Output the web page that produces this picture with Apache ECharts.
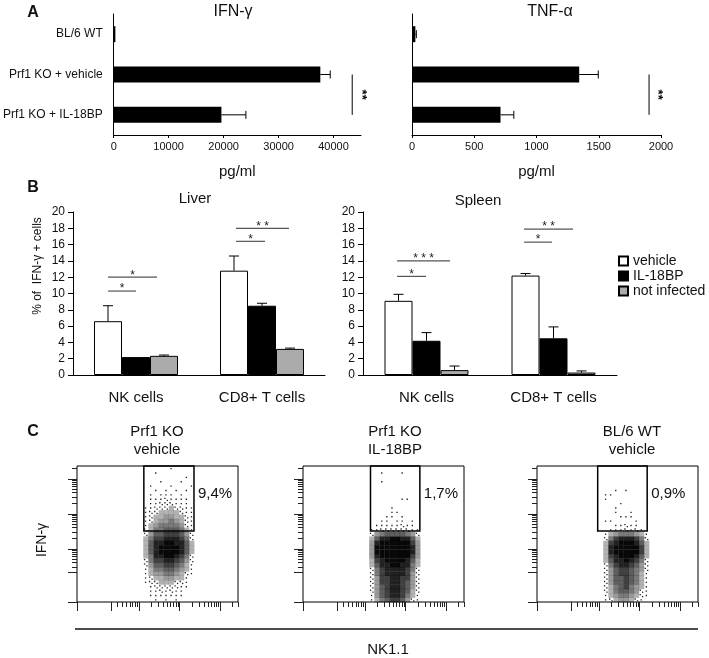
<!DOCTYPE html>
<html><head><meta charset="utf-8">
<script src="https://cdn.jsdelivr.net/npm/echarts@6/dist/echarts.min.js"></script>
<style>html,body{margin:0;padding:0;background:#fff}#c{width:709px;height:658px}</style>
</head><body><div id="c"></div>
<script>
const FONT = "'Liberation Sans', Arial, Helvetica, sans-serif";

// ---------- Panel A ----------
const groupsA = ['BL/6 WT', 'Prf1 KO + vehicle', 'Prf1 KO + IL-18BP'];
const ifnMean = [300, 37600, 19600];
const ifnErr  = [0, 1800, 4450];
const tnfMean = [27, 1343, 711];
const tnfErr  = [8, 153, 107];
const ifnAxis = {min: 0, max: 45000, step: 10000};
const tnfAxis = {min: 0, max: 2000, step: 500};
const ifnSig = [[43400, 1, 2]];   // x value, from group, to group
const tnfSig = [[1904, 1, 2]];
const sigLabelA = '**';

// ---------- Panel B ----------
const cellTypes = ['NK cells', 'CD8+ T cells'];
const treatments = ['vehicle', 'IL-18BP', 'not infected'];
const liverVehicle = [6.6, 12.8],  liverVehicleErr = [1.9, 1.8];
const liverIL      = [2.2, 8.5],   liverILErr      = [0, 0.3];
const liverNI      = [2.35, 3.2],  liverNIErr      = [0.1, 0.1];
const spleenVehicle = [9.1, 12.2], spleenVehicleErr = [0.8, 0.25];
const spleenIL      = [4.2, 4.5],  spleenILErr      = [1.0, 1.4];
const spleenNI      = [0.6, 0.3],  spleenNIErr      = [0.5, 0.2];
const pctAxis = {min: 0, max: 20, step: 2};
// brackets: [x start, x end, y level] on a 0..2 group scale
const liverBrackets  = [[0.278, 0.5, 10.3], [0.278, 0.667, 12.0], [1.294, 1.524, 16.4], [1.294, 1.714, 18.0]];
const liverStars     = ['*', '*', '*', '* *'];
const spleenBrackets = [[0.268, 0.496, 12.1], [0.268, 0.685, 14.0], [1.268, 1.488, 16.3], [1.268, 1.654, 17.9]];
const spleenStars    = ['*', '* * *', '*', '* *'];

// ---------- Panel C ----------
const facsTitles = [['Prf1 KO', 'vehicle'], ['Prf1 KO', 'IL-18BP'], ['BL/6 WT', 'vehicle']];
const gatePct = ['9,4%', '1,7%', '0,9%'];
const gates = [[1.64, 2.87, 2.03], [1.656, 2.867, 2.03], [1.489, 2.703, 2.03]]; // x1, x2, y bottom (decades)
const cloudX0 = [1.5, 1.5, 1.375];
const BIN = 0.125, CLOUD_TOP = 3.875;
// density per bin (0-9), rows from top to bottom
const cloudVehicle = [
"000000100000","000100000000","000000000100","000010001000","001000100010",
"000101010100","001011101000","001112111100","001122211100","011222322110",
"012233332110","012334433210","012344543210","013455554210","023556665310",
"024667776420","035778887520","036889988630","036899998630","036899998630",
"035889987520","025778876420","024667765310","013556654310","013445543210",
"012334433100","012233322100","001222221100","001121211000","001111111000",
"000101010000"];
const cloudIL18BP = [
"000000000000","000100010000","000000000000","000100000000","000000000000",
"000000000000","000000000000","000000011000","000000000000","000001000000",
"000001100000","000011010000","000110110100","001111121100","011222222110",
"024566665420","036889988630","048999999740","049999999840","049999999840",
"048999999740","037899998630","036889988530","025788887520","025788887420",
"024778877420","024778876420","024678876420","024678876320","014678875310",
"013567764210"];
const cloudWT = [
"000000000000","000000000000","000000000000","000000000000","000000000000",
"000010100000","001100000000","001000000000","000001000000","000010000000",
"000010010000","000001110000","001100001000","000011211000","000111212100",
"001345554310","002578887520","003789998630","003899999730","003899999730",
"003789998630","003688987520","002578876420","002467765420","002467765310",
"002466765310","002466765310","002356754310","002356654210","001345543210",
"001234432100"];
const clouds = [cloudVehicle, cloudIL18BP, cloudWT];
const FACS_X_MAX = 3.95, FACS_Y_MAX = 3.886;
const facsMajor = [0, 0.85, 1.52, 2.52, 3.52];
const facsDecades = [0.52, 1.52, 2.52, 3.52];

function facsMinor(maxV, withEnd) {
  const out = [];
  facsDecades.forEach(d => { for (let k = 2; k <= 9; k++) { const v = d + Math.log10(k); if (v > 0.87 && v < maxV - 0.02) out.push(+v.toFixed(3)); } });
  if (withEnd) out.push(maxV);
  return out;
}

// ---------- render helpers ----------
const TXT = (o) => Object.assign({fontFamily: FONT, fill: '#111', align: 'center', verticalAlign: 'middle', textAlign: 'center', textVerticalAlign: 'middle'}, o);
function errH(params, api) {
  const m = api.value(0), c = api.value(1), e = api.value(2);
  if (!(e > 0)) return null;
  const p0 = api.coord([m, c]), p1 = api.coord([m + e, c]);
  return {type: 'group', children: [
    {type: 'line', shape: {x1: p0[0], y1: p0[1], x2: p1[0], y2: p1[1]}, style: {stroke: '#000', lineWidth: 1}},
    {type: 'line', shape: {x1: p1[0], y1: p1[1] - 4, x2: p1[0], y2: p1[1] + 4}, style: {stroke: '#000', lineWidth: 1}}
  ]};
}
function sigA(params, api) {
  const x = api.value(0), c1 = api.value(1), c2 = api.value(2);
  const p1 = api.coord([x, c1]), p2 = api.coord([x, c2]);
  return {type: 'group', children: [
    {type: 'line', shape: {x1: p1[0], y1: p1[1], x2: p2[0], y2: p2[1]}, style: {stroke: '#000', lineWidth: 1}},
    {type: 'text', x: p1[0] + 9, y: (p1[1] + p2[1]) / 2, rotation: -Math.PI / 2,
     style: TXT({text: sigLabelA, fontSize: 13, fontWeight: 'bold', fill: '#000'})}
  ]};
}
const BAR_W = 28;
function errV(params, api) {
  const c = api.value(0), m = api.value(1), e = api.value(2), slot = api.value(3);
  if (!(e > 0)) return null;
  const p0 = api.coord([c, m]), p1 = api.coord([c, m + e]);
  const x = p0[0] + slot * BAR_W;
  return {type: 'group', children: [
    {type: 'line', shape: {x1: x, y1: p0[1], x2: x, y2: p1[1]}, style: {stroke: '#000', lineWidth: 1}},
    {type: 'line', shape: {x1: x - 5, y1: p1[1], x2: x + 5, y2: p1[1]}, style: {stroke: '#000', lineWidth: 1}}
  ]};
}
function bracketRender(stars) {
  return function (params, api) {
    const x1 = api.value(0), x2 = api.value(1), y = api.value(2);
    const a = api.coord([x1, y]), b = api.coord([x2, y]);
    return {type: 'group', children: [
      {type: 'line', shape: {x1: a[0], y1: a[1], x2: b[0], y2: b[1]}, style: {stroke: '#555', lineWidth: 1.2}},
      {type: 'text', x: (a[0] + b[0]) / 2, y: a[1] - 2, style: TXT({text: stars[params.dataIndex], fontSize: 12, fill: '#222'})}
    ]};
  };
}
const ALPHA = [0, 0, 0, 0.3, 0.4, 0.52, 0.63, 0.75, 0.87, 0.97];
function cloudRender(params, api) {
  const x = api.value(0), y = api.value(1), d = api.value(2);
  const a = api.coord([x, y + BIN]), b = api.coord([x + BIN, y]);
  const w = b[0] - a[0], h = b[1] - a[1];
  if (d <= 2) {
    const pts = d === 1 ? [[0.45, 0.5]] : [[0.25, 0.3], [0.72, 0.75]];
    return {type: 'group', children: pts.map(p => ({type: 'rect', shape: {x: a[0] + p[0] * w - 0.6, y: a[1] + p[1] * h - 0.6, width: 1.3, height: 1.3}, style: {fill: '#222'}}))};
  }
  return {type: 'rect', shape: {x: a[0], y: a[1], width: w + 0.25, height: h + 0.25}, style: {fill: 'rgba(0,0,0,' + ALPHA[d] + ')'}};
}
function gateRenderFor(p) {
  return function (params, api) {
    const x1 = api.value(0), x2 = api.value(1), yb = api.value(2);
    const a = api.coord([x1, FACS_Y_MAX]), b = api.coord([x2, yb]);
    return {type: 'group', children: [
      {type: 'rect', shape: {x: a[0], y: a[1], width: b[0] - a[0], height: b[1] - a[1]}, style: {fill: 'none', stroke: '#000', lineWidth: 1.5}},
      {type: 'text', x: b[0] + 4, y: a[1] + 28, style: TXT({text: gatePct[p], fontSize: 15, align: 'left', textAlign: 'left'})}
    ]};
  };
}
function cloudCells(rows, x0) {
  const out = [];
  rows.forEach((r, j) => { for (let i = 0; i < r.length; i++) { const d = +r[i]; if (d > 0) out.push([x0 + i * BIN, CLOUD_TOP - (j + 1) * BIN, d]); } });
  return out;
}

// ---------- option ----------
const grids = [
  {left: 113, top: 14, width: 248, height: 121},
  {left: 412, top: 14, width: 249, height: 121},
  {left: 73, top: 212, width: 252, height: 163},
  {left: 363, top: 212, width: 254, height: 163},
  {left: 77, top: 466, width: 161, height: 136, show: true, borderColor: '#000', borderWidth: 1},
  {left: 303, top: 466, width: 161, height: 136, show: true, borderColor: '#000', borderWidth: 1},
  {left: 537, top: 466, width: 161, height: 136, show: true, borderColor: '#000', borderWidth: 1}
];
const blackLine = {show: true, lineStyle: {color: '#000', width: 1}};
function valX(g, ax) {
  return {type: 'value', gridIndex: g, min: ax.min, max: ax.max, interval: ax.step,
    axisLine: blackLine, axisTick: {show: true, length: 3, lineStyle: {color: '#000'}},
    axisLabel: {fontSize: 11, color: '#111', margin: 6, showMaxLabel: ax.max % ax.step === 0, formatter: v => String(v)},
    splitLine: {show: false}, name: 'pg/ml', nameLocation: 'middle', nameGap: 29,
    nameTextStyle: {fontSize: 15, color: '#111'}};
}
function facsX(g, vals, len) {
  return {type: 'value', gridIndex: g, min: 0, max: FACS_X_MAX, position: 'bottom',
    axisLine: {show: false}, splitLine: {show: false},
    axisLabel: {show: false, customValues: vals},
    axisTick: {show: true, length: len, customValues: vals, lineStyle: {color: '#222', width: 1}}};
}
function facsY(g, vals, len) {
  return {type: 'value', gridIndex: g, min: 0, max: FACS_Y_MAX, position: 'left',
    axisLine: {show: false}, splitLine: {show: false},
    axisLabel: {show: false, customValues: vals},
    axisTick: {show: true, length: len, customValues: vals, lineStyle: {color: '#222', width: 1}}};
}
function pctY(g) {
  return {type: 'value', gridIndex: g, min: pctAxis.min, max: pctAxis.max, interval: pctAxis.step,
    axisLine: blackLine, axisTick: {show: true, length: 5, lineStyle: {color: '#000'}},
    axisLabel: {fontSize: 12, color: '#111', margin: 8}, splitLine: {show: false}};
}
function catX(g) {
  return {type: 'category', gridIndex: g, data: cellTypes, axisTick: {show: false}, axisLine: blackLine,
    axisLabel: {fontSize: 15, color: '#111', margin: 15}};
}

const xAxis = [
  valX(0, ifnAxis), valX(1, tnfAxis),
  catX(2), {type: 'value', gridIndex: 2, min: 0, max: 2, show: false},
  catX(3), {type: 'value', gridIndex: 3, min: 0, max: 2, show: false}
];
const yAxis = [
  {type: 'category', gridIndex: 0, data: groupsA, inverse: true, axisLine: blackLine, axisTick: {show: false},
   axisLabel: {fontSize: 12, color: '#111', margin: 11}},
  {type: 'category', gridIndex: 1, data: groupsA, inverse: true, axisLine: blackLine, axisTick: {show: false},
   axisLabel: {show: false}},
  pctY(2), pctY(3)
];
for (let p = 0; p < 3; p++) {
  xAxis.push(facsX(4 + p, facsMajor, 9));
  xAxis.push(facsX(4 + p, facsMinor(FACS_X_MAX, true), 5));
  yAxis.push(facsY(4 + p, facsMajor, 9));
  yAxis.push(facsY(4 + p, facsMinor(FACS_Y_MAX, false), 5));
}

const series = [];
// Panel A
[[ifnMean, ifnErr, ifnSig], [tnfMean, tnfErr, tnfSig]].forEach((s, k) => {
  series.push({type: 'bar', name: 'A' + k, xAxisIndex: k, yAxisIndex: k, data: s[0], barWidth: 16, itemStyle: {color: '#000'}});
  series.push({type: 'custom', xAxisIndex: k, yAxisIndex: k, renderItem: errH, data: s[0].map((m, i) => [m, i, s[1][i]]), z: 3});
  series.push({type: 'custom', xAxisIndex: k, yAxisIndex: k, renderItem: sigA, data: s[2], z: 3});
});
// Panel B
const barStyles = [
  {color: '#fff', borderColor: '#000', borderWidth: 1},
  {color: '#000', borderColor: '#000', borderWidth: 1},
  {color: '#ababab', borderColor: '#000', borderWidth: 1}
];
const tissues = [
  {xi: 2, xv: 3, yi: 2, means: [liverVehicle, liverIL, liverNI], errs: [liverVehicleErr, liverILErr, liverNIErr], br: liverBrackets, st: liverStars},
  {xi: 4, xv: 5, yi: 3, means: [spleenVehicle, spleenIL, spleenNI], errs: [spleenVehicleErr, spleenILErr, spleenNIErr], br: spleenBrackets, st: spleenStars}
];
tissues.forEach(t => {
  const errData = [];
  t.means.forEach((m, s) => {
    series.push({type: 'bar', name: treatments[s], xAxisIndex: t.xi, yAxisIndex: t.yi, data: m,
      barWidth: BAR_W, barGap: '0%', itemStyle: barStyles[s]});
    m.forEach((v, c) => errData.push([c, v, t.errs[s][c], s - 1]));
  });
  series.push({type: 'custom', xAxisIndex: t.xi, yAxisIndex: t.yi, renderItem: errV, data: errData, z: 3});
  series.push({type: 'custom', xAxisIndex: t.xv, yAxisIndex: t.yi, renderItem: bracketRender(t.st), data: t.br,
    encode: {x: [0, 1], y: 2}, z: 3});
});
// Panel C
for (let p = 0; p < 3; p++) {
  series.push({type: 'custom', xAxisIndex: 6 + 2 * p, yAxisIndex: 4 + 2 * p, renderItem: cloudRender, data: cloudCells(clouds[p], cloudX0[p]), z: 2});
  series.push({type: 'custom', xAxisIndex: 6 + 2 * p, yAxisIndex: 4 + 2 * p, renderItem: gateRenderFor(p), data: [gates[p]],
    encode: {x: [0, 1], y: 2}, z: 4});
}

function txt(x, y, text, size, extra) {
  return {type: 'text', x: x, y: y, z: 10, style: TXT(Object.assign({text: text, fontSize: size}, extra || {}))};
}
const graphic = [
  txt(33, 13, 'A', 16, {fontWeight: 'bold'}),
  txt(33, 188, 'B', 16, {fontWeight: 'bold'}),
  txt(33, 432, 'C', 16, {fontWeight: 'bold'}),
  txt(233, 12, 'IFN-\u03b3', 16),
  txt(550, 12, 'TNF-\u03b1', 16),
  txt(195, 199, 'Liver', 15),
  txt(478, 201, 'Spleen', 15),
  Object.assign(txt(38, 266, '% of  IFN-\u03b3 + cells', 12), {rotation: Math.PI / 2}),
  Object.assign(txt(42, 540, 'IFN-\u03b3', 14), {rotation: Math.PI / 2}),
  txt(388, 650, 'NK1.1', 15),
  {type: 'line', shape: {x1: 75, y1: 629, x2: 698, y2: 629}, style: {stroke: '#111', lineWidth: 1.5}}
];
const titleX = [157, 395, 632];
facsTitles.forEach((t, p) => { graphic.push(txt(titleX[p], 432, t[0], 15)); graphic.push(txt(titleX[p], 450, t[1], 15)); });

const chart = echarts.init(document.getElementById('c'), null, {renderer: 'canvas'});
chart.setOption({
  animation: false,
  backgroundColor: '#fff',
  textStyle: {fontFamily: FONT},
  grid: grids, xAxis: xAxis, yAxis: yAxis, series: series, graphic: graphic,
  legend: {data: treatments, orient: 'vertical', left: 618, top: 254, padding: 0, itemWidth: 9, itemHeight: 9, itemGap: 1,
    icon: 'rect', textStyle: {fontSize: 14, color: '#111', lineHeight: 14}}
});
</script></body></html>
